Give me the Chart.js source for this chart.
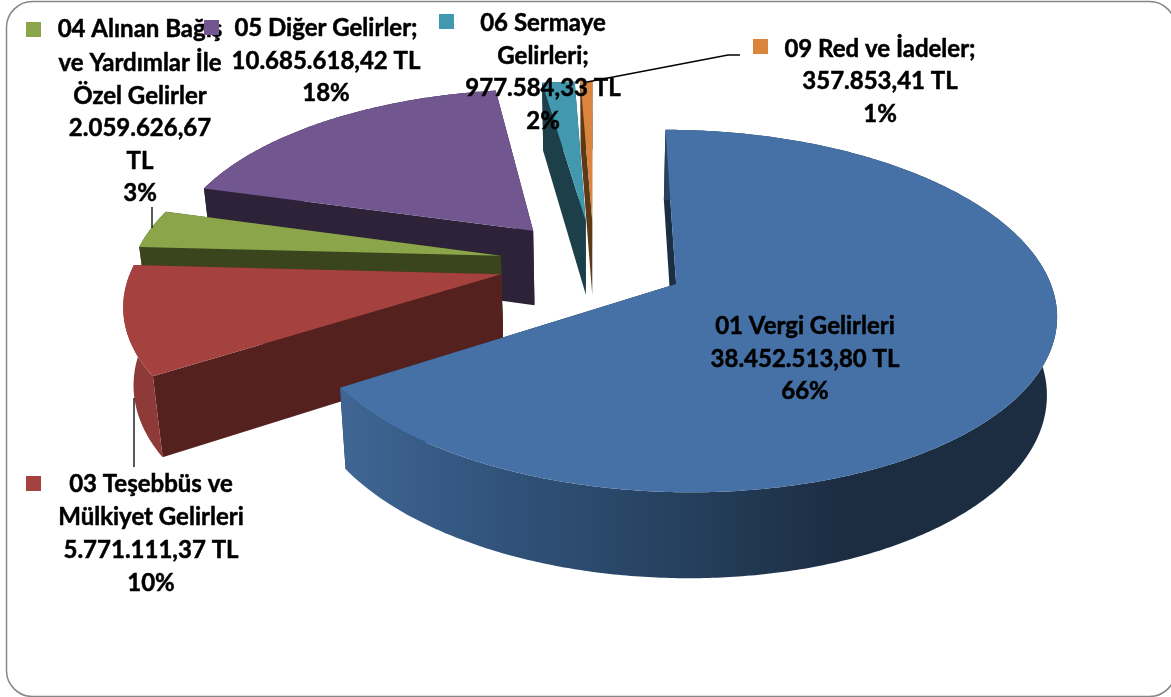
<!DOCTYPE html>
<html>
<head>
<meta charset="utf-8">
<title>Gelirler</title>
<script src="https://cdn.jsdelivr.net/npm/chart.js@4"></script>
<style>
  html, body { margin: 0; padding: 0; background: #fff; }
  canvas { display: block; }
</style>
</head>
<body>
<canvas id="grafik" width="1171" height="697"></canvas>
<script>
var kategoriler = ['01 Vergi Gelirleri', '03 Teşebbüs ve Mülkiyet Gelirleri', '04 Alınan Bağış ve Yardımlar İle Özel Gelirler', '05 Diğer Gelirler', '06 Sermaye Gelirleri', '09 Red ve İadeler'];
var degerler = [38452513.80, 5771111.37, 2059626.67, 10685618.42, 977584.33, 357853.41];
var etiketSatirlari = [
    ['01 Vergi Gelirleri', '38.452.513,80 TL', '66%'],
    ['03 Teşebbüs ve', 'Mülkiyet Gelirleri', '5.771.111,37 TL', '10%'],
    ['04 Alınan Bağış', 've Yardımlar İle', 'Özel Gelirler', '2.059.626,67', 'TL', '3%'],
    ['05 Diğer Gelirler;', '10.685.618,42 TL', '18%'],
    ['06 Sermaye', 'Gelirleri;', '977.584,33 TL', '2%'],
    ['09 Red ve İadeler;', '357.853,41 TL', '1%']
];

var colores = ['#4571a6', '#a5423f', '#8aa54a', '#725690', '#4198af', '#db843d'];
var coloresCorte = ['#1c2e44', '#55211f', '#3a451d', '#2d2238', '#1c3f4a', '#5c3a17'];
var coloresPared = [['#406694', '#30527a', '#26415f', '#1c2d42'], ['#8e3a38', '#8e3a38'], ['#3a451d', '#3a451d'], ['#2d2238', '#2d2238'], ['#1c3f4a', '#1c3f4a'], ['#5c3a17', '#5c3a17']];
var explosion = [0.25, 0.258, 0.258, 0.258, 0.258, 0.258];

// label placement: text centre x, centre y of each line, legend key corner
var etiquetasPos = [
    { x: 805, y: [326, 359, 391], key: [684, 319] },
    { x: 151, y: [484, 517, 550, 583], key: [26, 476] },
    { x: 140, y: [29, 63, 96, 128, 161, 193], key: [26, 22] },
    { x: 326, y: [28, 61, 93], key: [204, 20] },
    { x: 543, y: [23, 56, 88, 121], key: [439, 14] },
    { x: 880, y: [49, 81, 114], key: [753, 39] }
];
var lineasGuia = [
    [[152, 207], [152, 228]],
    [[134, 398], [134, 467]],
    [[587, 82], [728, 55], [740, 55]]
];

// perspective view of the pie plane
var vista = { cx: 594, cy: 263, rx: 368, ry: 171, p: 0.147, alto: 76, fondo: 0.022 };

function proyectar(u, v, z) {
    var w = 1 / (1 - vista.p * v);
    var s = 1 - vista.fondo * z;
    return {
        x: vista.cx + vista.rx * u * w * s,
        y: vista.cy + vista.ry * v * w * s + vista.alto * w * z
    };
}

function poligono(ctx, puntos, relleno) {
    ctx.beginPath();
    puntos.forEach(function (p, i) {
        if (i === 0) { ctx.moveTo(p.x, p.y); } else { ctx.lineTo(p.x, p.y); }
    });
    ctx.closePath();
    ctx.fillStyle = relleno;
    ctx.fill();
}

var tarta3d = {
    id: 'tarta3d',
    beforeDatasetsDraw: function (chart) {
        var ctx = chart.ctx;
        var arcos = chart.getDatasetMeta(0).data;
        // back to front, the big front slice last
        [5, 4, 3, 2, 1, 0].forEach(function (i) {
            var props = arcos[i].getProps(['startAngle', 'endAngle']);
            var a0 = props.startAngle, a1 = props.endAngle;
            var mitad = (a0 + a1) / 2;
            var ou = Math.cos(mitad) * explosion[i];
            var ov = Math.sin(mitad) * explosion[i];
            var pasos = Math.max(4, Math.ceil((a1 - a0) / 0.01));
            var borde = [];
            for (var k = 0; k <= pasos; k++) {
                var a = a0 + (a1 - a0) * k / pasos;
                borde.push([ou + Math.cos(a), ov + Math.sin(a)]);
            }
            var arriba = borde.map(function (b) { return proyectar(b[0], b[1], 0); });
            var abajo = borde.map(function (b) { return proyectar(b[0], b[1], 1); });
            var cen0 = proyectar(ou, ov, 0), cen1 = proyectar(ou, ov, 1);

            // cut faces
            poligono(ctx, [cen0, arriba[0], abajo[0], cen1], coloresCorte[i]);
            poligono(ctx, [cen0, arriba[pasos], abajo[pasos], cen1], coloresCorte[i]);

            // outer wall
            var grad = ctx.createLinearGradient(340, 0, 840, 0);
            coloresPared[i].forEach(function (c, n, lista) { grad.addColorStop(n / (lista.length - 1), c); });
            poligono(ctx, arriba.concat(abajo.slice().reverse()), grad);

            // top face
            poligono(ctx, [cen0].concat(arriba), colores[i]);
        });
        return false;
    },
    afterDraw: function (chart) {
        var ctx = chart.ctx;
        ctx.save();
        ctx.strokeStyle = '#868686';
        ctx.lineWidth = 1.5;
        ctx.beginPath();
        ctx.roundRect(6.5, 1.5, 1169, 695, 26);
        ctx.stroke();

        ctx.strokeStyle = '#000';
        ctx.lineWidth = 1.3;
        lineasGuia.forEach(function (linea) {
            ctx.beginPath();
            linea.forEach(function (p, i) {
                if (i === 0) { ctx.moveTo(p[0], p[1]); } else { ctx.lineTo(p[0], p[1]); }
            });
            ctx.stroke();
        });

        ctx.font = 'bold 24px Lato';
        ctx.textAlign = 'center';
        ctx.textBaseline = 'middle';
        ctx.lineWidth = 0.5;
        ctx.strokeStyle = '#000';
        etiketSatirlari.forEach(function (satirlar, i) {
            var pos = etiquetasPos[i];
            ctx.fillStyle = '#000';
            satirlar.forEach(function (t, n) {
                ctx.fillText(t, pos.x, pos.y[n]);
                ctx.strokeText(t, pos.x, pos.y[n]);
            });
            ctx.fillStyle = colores[i];
            ctx.fillRect(pos.key[0], pos.key[1], 15, 15);
        });
        ctx.restore();
    }
};

var ctx = document.getElementById('grafik').getContext('2d');
var grafik = new Chart(ctx, {
    type: 'pie',
    data: {
        labels: kategoriler,
        datasets: [{ data: degerler, backgroundColor: colores, borderWidth: 0 }]
    },
    options: {
        responsive: false,
        animation: false,
        plugins: { legend: { display: false }, tooltip: { enabled: false } }
    },
    plugins: [tarta3d]
});
</script>
</body>
</html>
